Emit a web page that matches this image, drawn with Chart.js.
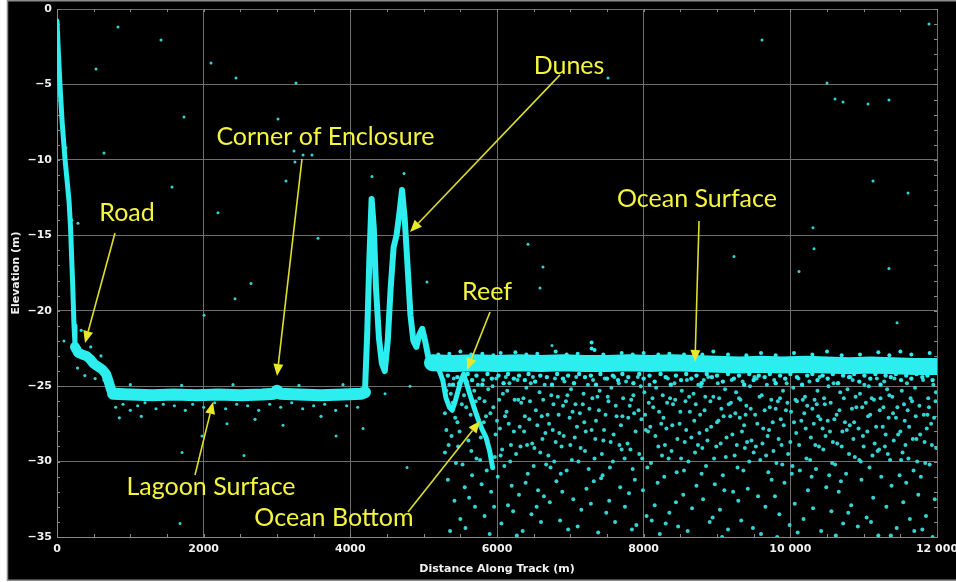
<!DOCTYPE html>
<html>
<head>
<meta charset="utf-8">
<script src="https://cdn.jsdelivr.net/npm/chart.js@4/dist/chart.umd.min.js"></script>
<style>
html,body{margin:0;padding:0;background:#fff;}
canvas{display:block;}
</style>
</head>
<body>
<canvas id="c" width="956" height="582"></canvas>
<script>
// ---------- DATA ----------
const xTicks = [0, 2000, 4000, 6000, 8000, 10000, 12000];
const yTicks = [0, -5, -10, -15, -20, -25, -30, -35];

// steep slope from the top of the track down to the road
const slopeX = [0, 15, 40, 70, 110, 140, 165, 185, 200, 212, 222, 232, 245];
const slopeY = [-0.8, -2.5, -5, -7.5, -10, -11.5, -12.8, -14.5, -16.5, -18, -19.5, -21, -22.2];

// road shelf
const roadX = [245, 290, 340, 400, 450, 500, 560, 620, 670, 705, 735, 765];
const roadY = [-22.4, -22.8, -22.9, -23.0, -23.2, -23.5, -23.7, -23.9, -24.2, -24.7, -25.2, -25.5];

// lagoon surface
const lagoonX = [765, 1000, 1300, 1600, 1900, 2200, 2500, 2800, 2960, 3000, 3040, 3300, 3600, 3900, 4150, 4200];
const lagoonY = [-25.5, -25.55, -25.6, -25.55, -25.6, -25.55, -25.6, -25.55, -25.5, -25.3, -25.5, -25.55, -25.6, -25.55, -25.5, -25.4];

// dunes
const dunesX = [4200, 4230, 4260, 4290, 4320, 4350, 4390, 4430, 4470, 4510, 4550, 4590, 4630, 4670, 4705, 4740, 4780, 4820, 4860, 4900, 4940, 4980, 5020, 5060, 5100, 5130];
const dunesY = [-25.3, -21.5, -16.5, -12.6, -14.5, -18.5, -21.8, -23.5, -24.0, -22.0, -18.5, -15.8, -15.0, -13.5, -12.0, -13.8, -17.0, -20.3, -22.0, -22.4, -21.6, -21.2, -22.0, -23.0, -23.4, -23.5];

// ocean surface
const oceanX = [5120, 5400, 5700, 6000, 6300, 6600, 6900, 7200, 7500, 7800, 8100, 8400, 8700, 9000, 9300, 9600, 9900, 10200, 10500, 10800, 11100, 11400, 11700, 12000];
const oceanY = [-23.45, -23.5, -23.45, -23.5, -23.45, -23.5, -23.45, -23.5, -23.5, -23.45, -23.5, -23.45, -23.5, -23.55, -23.6, -23.55, -23.6, -23.55, -23.6, -23.65, -23.6, -23.65, -23.7, -23.7];

// reef / ocean bottom
const reefX = [5200, 5260, 5305, 5350, 5390, 5430, 5470, 5510, 5545, 5590, 5640, 5700, 5750, 5800, 5850, 5900, 5940];
const reefY = [-23.8, -24.6, -25.8, -26.4, -26.6, -26.0, -25.3, -24.6, -24.2, -24.9, -25.7, -26.6, -27.3, -27.9, -28.4, -29.3, -30.4];

// spikes on top of the ocean surface band
const surfaceSpikes = [[5200,-22.9],[5350,-22.85],[5500,-22.7],[5650,-22.9],[5800,-22.85],[5950,-22.95],[6050,-22.8],[6250,-22.75],[6400,-22.9],[6550,-22.85],[6800,-22.7],[6950,-22.9],[7100,-22.85],[7290,-22.1],[7290,-22.5],[7330,-22.6],[7450,-22.9],[7700,-22.8],[7850,-22.9],[8000,-22.8],[8200,-22.9],[8350,-22.85],[8550,-22.9],[8800,-22.9],[8950,-22.7],[9150,-22.9],[9400,-22.95],[9600,-22.8],[9800,-22.95],[10050,-22.8],[10300,-22.9],[10500,-22.7],[10700,-22.95],[10950,-22.9],[11200,-22.75],[11350,-22.95],[11500,-22.7],[11650,-22.9],[11900,-22.8]];

// isolated returns outside the ground / water bands
const sparsePoints = [
[832,-1.19],[1418,-2.06],[532,-3.98],[2100,-3.58],[2441,-4.57],[3259,-4.91],[1732,-7.16],[3014,-7.29],[641,-9.55],[3232,-9.41],[3245,-10.14],[3355,-9.68],[3477,-9.68],[3123,-11.4],[1568,-11.8],[2195,-13.5],[3559,-15.2],[2645,-18.2],[2427,-19.2],[2005,-20.3],[286,-14.2],[95,-22.0],
[11891,-0.99],[9614,-2.06],[7514,-4.57],[10500,-4.9],[10609,-5.97],[10718,-6.16],[11059,-6.3],[11345,-6.03],[11127,-11.4],[11605,-12.2],[10309,-14.5],[10323,-15.9],[6423,-15.6],[9232,-16.4],[6627,-17.1],[6586,-18.5],[10118,-17.4],[11345,-17.2],[11455,-20.8],[6750,-22.3],
[1705,-29.4],[2318,-27.5],[2550,-29.6],[1677,-34.1],[3805,-28.3],[4173,-27.8],[3082,-27.6],[4773,-30.4],[1977,-28.3],[4295,-11.1],[4732,-10.9],[5045,-18.1],[4473,-25.5],[4814,-25.0]
];

// fringe returns around the land / lagoon band
const lagoonFringe = [
[800,-26.4],[900,-26.2],[1000,-26.6],[1100,-26.3],[1200,-26.1],[1350,-26.5],[1450,-26.2],[1600,-26.3],[1750,-26.6],[1850,-26.2],[2000,-26.4],[2150,-26.1],[2300,-26.5],[2450,-26.2],[2600,-26.3],[2750,-26.6],[2900,-26.2],[3050,-26.4],[3200,-26.1],[3350,-26.5],[3500,-26.3],[3650,-26.2],[3800,-26.6],[3950,-26.3],[4100,-26.4],
[1000,-24.9],[1700,-24.95],[2400,-24.9],[3300,-24.95],[3900,-24.9],[850,-27.1],[1150,-27.0],[2700,-27.2],[3600,-27.0],
[330,-21.3],[420,-21.6],[380,-24.3],[520,-24.5],[600,-23.0],[280,-23.8],[640,-24.6],[460,-22.4],[700,-24.8],[120,-9.2],[150,-12.0],[200,-14.0]
];

// returns just below the ocean surface band
const surfaceFringe = [
[5330,-24.3],[5400,-24.9],[5460,-24.4],[5600,-24.2],[5660,-24.6],[5720,-24.3],[5800,-24.9],[5870,-24.2],[5930,-24.5],[6020,-24.3],[6090,-24.8],[6150,-24.2],[6230,-24.5],[6300,-24.3],[6380,-24.6],[6430,-24.2],[6520,-24.7],[6590,-24.3],[6680,-24.4],[6750,-24.9],[6820,-24.2],[6900,-24.5],[6970,-24.3],[7050,-24.8],[7120,-24.2],[7200,-24.4],[7280,-24.3],[7350,-24.9],[7410,-24.2],[7500,-24.5],[7580,-24.3],[7650,-24.6],[7710,-24.2],[7790,-24.4],[7860,-24.8],[7940,-24.2],[8000,-24.5],[8080,-24.3],[8150,-24.7],[8230,-24.2],[8300,-24.4],[8370,-24.9],[8440,-24.3],[8510,-24.6],[8580,-24.2],[8650,-24.5],[8720,-24.3],[8790,-24.8],[8860,-24.2],[8930,-24.4],[9000,-24.3],[9080,-24.7],[9150,-24.2],[9230,-24.5],[9300,-24.3],[9370,-24.9],[9440,-24.2],[9500,-24.6],[9570,-24.3],[9650,-24.4],[9720,-24.2],[9800,-24.8],[9860,-24.3],[9930,-24.5],[10000,-24.2],[10090,-24.4],[10160,-24.9],[10230,-24.3],[10300,-24.2],[10370,-24.6],[10440,-24.3],[10510,-24.5],[10580,-24.2],[10650,-24.8],[10720,-24.3],[10800,-24.4],[10870,-24.2],[10940,-24.7],[11010,-24.3],[11090,-24.5],[11160,-24.2],[11230,-24.9],[11300,-24.3],[11370,-24.4],[11440,-24.2],[11510,-24.6],[11580,-24.3],[11650,-24.5],[11720,-24.2],[11800,-24.4],[11870,-24.3],[11940,-24.6]
];

// scattered returns in the water column below the ocean surface
const oceanNoise = [
[5270,-24.6],[5310,-27.9],[5290,-29.4],[5350,-24.9],[5330,-31.2],[5380,-28.3],[5410,-24.5],[5420,-32.6],[5460,-27.4],[5440,-30.1],[5480,-24.8],[5500,-33.8],[5520,-26.2],[5470,-29.0],[5560,-31.7],[5590,-24.7],[5610,-28.6],[5570,-34.4],[5640,-26.9],[5660,-30.9],[5690,-25.3],[5700,-33.0],[5720,-29.8],[5740,-24.9],[5310,-25.3],[5360,-34.6],[5550,-25.6],[5620,-32.4],[5680,-27.7],[5395,-26.1],
[5760,-25.8],[5790,-31.5],[5810,-24.6],[5830,-33.6],[5850,-27.0],[5880,-25.2],[5900,-34.8],[5920,-32.0],[5950,-26.4],[5970,-29.7],[5990,-24.5],[6010,-31.0],[6040,-27.8],[6060,-34.1],[6080,-25.5],[6100,-30.3],[6130,-26.7],[6150,-32.9],[6170,-24.8],[6190,-28.9],[6220,-33.3],[6240,-25.9],[5780,-28.4],[5860,-30.6],[5940,-25.0],[6000,-27.3],[6120,-24.4],[6200,-31.6],[5830,-26.0],[6070,-29.2],[5960,-33.0],[6160,-27.5],
[6260,-29.5],[6280,-24.6],[6300,-32.2],[6330,-26.1],[6350,-34.6],[6370,-28.0],[6400,-25.1],[6420,-30.8],[6440,-27.2],[6470,-33.5],[6490,-24.4],[6510,-29.1],[6530,-26.6],[6560,-31.9],[6580,-25.4],[6600,-34.0],[6620,-28.5],[6650,-24.9],[6670,-30.2],[6690,-26.9],[6720,-32.7],[6740,-25.6],[6310,-27.7],[6390,-31.4],[6460,-24.8],[6540,-33.0],[6610,-27.0],[6700,-29.6],[6270,-34.9],[6360,-25.8],[6480,-28.8],[6640,-32.3],
[6760,-27.9],[6790,-24.5],[6810,-31.3],[6830,-25.7],[6860,-33.9],[6880,-29.0],[6900,-26.3],[6920,-24.7],[6950,-30.6],[6970,-34.5],[6990,-27.1],[7010,-25.2],[7040,-32.5],[7060,-28.4],[7080,-24.4],[7110,-30.0],[7130,-26.8],[7150,-33.2],[7180,-25.5],[7200,-29.3],[7220,-31.8],[7240,-24.9],[6780,-30.0],[6850,-28.1],[6940,-26.0],[7020,-29.9],[7100,-34.3],[7190,-27.4],[6890,-32.0],[7070,-26.2],
[7260,-26.5],[7280,-32.8],[7310,-24.6],[7330,-29.8],[7350,-27.3],[7380,-34.7],[7400,-25.3],[7420,-31.1],[7450,-28.6],[7470,-24.5],[7490,-33.4],[7520,-26.0],[7540,-30.4],[7560,-25.1],[7590,-28.2],[7610,-34.0],[7630,-27.0],[7660,-24.8],[7680,-31.7],[7700,-29.2],[7720,-25.8],[7745,-33.0],[7290,-27.9],[7370,-25.7],[7440,-30.9],[7530,-32.6],[7600,-24.4],[7690,-27.6],[7320,-31.3],[7480,-26.9],
[7760,-24.7],[7780,-28.8],[7800,-32.1],[7830,-25.9],[7850,-30.5],[7870,-26.8],[7900,-34.2],[7920,-24.4],[7940,-29.5],[7970,-27.2],[7990,-31.9],[8010,-25.4],[8040,-33.6],[8060,-28.0],[8080,-24.9],[8100,-30.1],[8130,-26.4],[8150,-32.9],[8170,-25.1],[8200,-29.0],[8220,-34.8],[8240,-27.5],[7810,-26.3],[7880,-31.2],[7960,-25.0],[8030,-27.9],[8110,-33.9],[8190,-31.4],[7840,-34.5],[8070,-26.1],
[8260,-25.6],[8280,-31.0],[8310,-27.8],[8330,-24.5],[8350,-33.4],[8380,-29.3],[8400,-26.2],[8420,-24.8],[8450,-30.7],[8470,-34.3],[8490,-27.5],[8520,-25.3],[8540,-32.2],[8560,-28.7],[8590,-24.6],[8610,-30.0],[8630,-26.7],[8660,-33.1],[8680,-25.5],[8700,-29.4],[8720,-31.6],[8745,-24.9],[8290,-28.9],[8360,-25.8],[8440,-32.7],[8510,-29.8],[8600,-34.6],[8690,-27.3],[8300,-34.1],[8570,-26.0],
[8760,-28.1],[8780,-25.0],[8810,-32.5],[8830,-26.6],[8850,-30.3],[8880,-24.4],[8900,-34.0],[8920,-27.7],[8950,-25.7],[8970,-31.5],[8990,-29.0],[9010,-24.8],[9040,-33.2],[9060,-26.5],[9080,-30.9],[9110,-25.2],[9130,-28.4],[9150,-34.5],[9180,-27.0],[9200,-24.6],[9220,-32.0],[9240,-29.6],[8790,-30.8],[8860,-27.9],[8940,-33.7],[9020,-27.3],[9100,-31.9],[9190,-26.1],[8820,-24.6],[9070,-35.0],
[9260,-25.4],[9280,-30.4],[9310,-27.1],[9330,-33.9],[9350,-24.7],[9380,-29.1],[9400,-26.3],[9420,-31.8],[9450,-25.0],[9470,-28.6],[9490,-34.4],[9520,-26.9],[9540,-24.5],[9560,-32.3],[9590,-29.9],[9610,-25.6],[9630,-27.8],[9660,-33.0],[9680,-24.9],[9700,-30.7],[9720,-26.4],[9745,-31.2],[9290,-32.6],[9370,-27.6],[9440,-30.0],[9530,-29.0],[9600,-34.8],[9690,-28.3],[9320,-25.9],[9510,-24.4],
[9760,-27.4],[9780,-24.6],[9810,-30.1],[9830,-26.0],[9850,-33.5],[9880,-28.9],[9900,-25.3],[9920,-31.4],[9950,-24.8],[9970,-29.5],[9990,-34.2],[10010,-26.7],[10040,-25.1],[10060,-32.8],[10080,-28.1],[10110,-24.5],[10130,-30.6],[10150,-27.3],[10180,-33.8],[10200,-25.7],[10220,-29.8],[10240,-31.9],[9790,-32.3],[9870,-27.2],[9940,-26.6],[10030,-30.3],[10100,-34.7],[10190,-26.8],[9820,-35.0],[10070,-25.9],
[10260,-24.7],[10280,-28.4],[10310,-33.1],[10330,-25.9],[10350,-30.5],[10380,-27.0],[10400,-24.4],[10420,-34.6],[10450,-29.2],[10470,-26.2],[10490,-31.7],[10520,-25.0],[10540,-28.0],[10560,-33.3],[10590,-24.8],[10610,-30.2],[10630,-26.9],[10660,-32.0],[10680,-25.4],[10700,-29.0],[10720,-34.1],[10745,-27.4],[10290,-31.0],[10370,-25.3],[10440,-27.8],[10530,-30.9],[10620,-34.9],[10690,-31.3],[10300,-26.5],[10580,-28.7],
[10760,-30.8],[10780,-25.2],[10810,-27.6],[10830,-32.9],[10850,-24.6],[10880,-29.7],[10900,-26.4],[10920,-34.3],[10950,-25.5],[10970,-31.2],[10990,-28.3],[11010,-24.9],[11040,-33.7],[11060,-27.0],[11080,-30.4],[11110,-25.8],[11130,-32.4],[11150,-28.8],[11180,-24.5],[11200,-34.9],[11220,-26.6],[11240,-31.0],[10790,-33.4],[10870,-27.4],[10940,-29.9],[11030,-26.1],[11100,-34.0],[11190,-29.3],[10820,-24.4],[11070,-25.0],
[11260,-27.7],[11280,-24.7],[11310,-33.0],[11330,-29.5],[11350,-25.6],[11380,-31.6],[11400,-26.8],[11420,-24.5],[11450,-34.4],[11470,-28.2],[11490,-30.9],[11520,-25.3],[11540,-32.7],[11560,-27.3],[11590,-24.8],[11610,-29.8],[11630,-33.8],[11660,-26.0],[11680,-30.6],[11700,-25.1],[11720,-28.5],[11745,-32.2],[11290,-29.0],[11370,-34.9],[11440,-27.1],[11530,-29.4],[11600,-26.6],[11690,-34.6],[11320,-25.2],[11580,-31.4],
[11760,-26.3],[11780,-31.0],[11810,-24.6],[11830,-28.7],[11850,-33.6],[11880,-25.8],[11900,-30.2],[11920,-27.5],[11950,-24.9],[11970,-32.5],[11990,-29.1],[11800,-34.5],[11870,-26.9],[11940,-35.0],[11985,-25.4]
];

// denser returns in the upper part of the water column
const oceanNoiseUpper = [
[5290,-26.8],[5340,-28.9],[5370,-25.5],[5430,-27.1],[5490,-28.0],[5530,-30.2],[5580,-26.4],[5650,-29.3],[5710,-26.0],[5770,-29.9],[5820,-27.4],[5870,-28.6],[5910,-26.8],[5980,-28.2],[6030,-25.9],[6050,-29.6],[6110,-27.0],[6140,-25.3],[6180,-30.0],[6230,-28.0],[6290,-25.9],[6320,-29.0],[6380,-27.0],[6410,-28.9],[6450,-26.0],[6500,-30.3],[6550,-27.6],[6590,-29.4],[6630,-25.9],[6660,-28.1],[6710,-27.5],[6730,-30.4],[6770,-26.2],[6800,-28.7],[6840,-26.9],[6870,-30.8],[6910,-28.3],[6960,-25.6],[7000,-28.9],[7030,-26.7],[7090,-27.7],[7140,-29.1],[7170,-26.2],[7210,-28.0],[7250,-30.5],[7300,-25.8],[7340,-28.5],[7390,-26.6],[7430,-29.5],[7460,-27.9],[7510,-25.7],[7550,-28.7],[7580,-30.0],[7620,-26.3],[7670,-28.9],[7710,-27.0],[7740,-29.8],[7790,-27.1],[7820,-29.2],[7860,-25.6],[7890,-28.0],[7930,-26.6],[7980,-29.8],[8020,-26.9],[8050,-30.4],[8090,-27.7],[8120,-25.8],[8160,-28.3],[8210,-26.7],[8250,-29.6],[8270,-27.1],[8320,-26.1],[8340,-29.8],[8390,-27.6],[8430,-25.9],[8460,-28.5],[8500,-26.7],[8550,-30.6],[8580,-27.9],[8620,-25.7],[8650,-28.4],[8710,-26.2],[8740,-28.9],[8770,-26.9],[8800,-29.1],[8840,-25.7],[8870,-28.6],[8910,-26.0],[8960,-29.8],[9000,-27.4],[9030,-25.8],[9050,-28.8],[9090,-27.0],[9120,-29.7],[9160,-26.2],[9210,-28.2],[9250,-26.8],[9270,-28.9],[9300,-25.8],[9340,-28.0],[9360,-30.6],[9390,-26.9],[9410,-28.7],[9460,-26.5],[9500,-29.4],[9550,-27.5],[9580,-25.7],[9620,-28.8],[9650,-26.6],[9670,-29.6],[9710,-27.9],[9740,-25.9],[9770,-29.3],[9800,-26.5],[9840,-28.5],[9860,-25.8],[9890,-30.2],[9910,-27.6],[9960,-26.1],[10000,-28.7],[10020,-30.8],[10050,-27.4],[10090,-26.0],[10120,-28.9],[10170,-25.9],[10210,-27.8],[10230,-26.3],[10270,-29.9],[10320,-27.5],[10340,-28.9],[10360,-26.2],[10390,-29.0],[10410,-27.2],[10460,-25.8],[10480,-28.3],[10510,-27.3],[10550,-26.1],[10570,-30.1],[10600,-27.2],[10640,-28.8],[10670,-26.6],[10710,-28.0],[10730,-25.8],[10770,-27.9],[10800,-29.5],[10840,-26.5],[10860,-28.5],[10890,-25.7],[10930,-27.8],[10960,-30.0],[10980,-26.4],[11000,-29.0],[11050,-28.0],[11090,-26.9],[11120,-29.6],[11140,-25.9],[11170,-27.7],[11210,-29.2],[11230,-25.8],[11270,-26.4],[11300,-28.2],[11340,-27.1],[11360,-29.9],[11390,-25.7],[11410,-28.6],[11460,-26.4],[11500,-28.0],[11510,-29.9],[11550,-26.2],[11570,-28.9],[11620,-27.7],[11640,-25.8],[11670,-28.5],[11710,-27.0],[11730,-30.0],[11770,-28.2],[11820,-26.9],[11840,-30.1],[11860,-27.8],[11890,-26.4],[11930,-28.9],[11960,-27.1],[11980,-26.0]
];

// annotation labels with anchor (text) and arrow tail/head in data coordinates
const annotations = [
  {text: 'Road',                tx: 955,  ty: -14.05, fx: 791,  fy: -14.85, hx: 382,  hy: -22.14},
  {text: 'Corner of Enclosure', tx: 3660, ty: -9.01,  fx: 3341, fy: -9.94,  hx: 3000, hy: -24.33},
  {text: 'Dunes',               tx: 6982, ty: -4.31,  fx: 6859, fy: -4.37,  hx: 4814, hy: -14.78},
  {text: 'Ocean Surface',       tx: 8727, ty: -13.12, fx: 8755, fy: -14.05, hx: 8700, hy: -23.4},
  {text: 'Reef',                tx: 5864, ty: -19.29, fx: 5905, fy: -20.08, hx: 5591, hy: -23.93},
  {text: 'Lagoon Surface',      tx: 2100, ty: -32.22, fx: 1882, fy: -30.89, hx: 2127, hy: -26.05},
  {text: 'Ocean Bottom',        tx: 3777, ty: -34.27, fx: 4786, fy: -33.34, hx: 5768, hy: -27.31}
];

// ---------- helpers ----------
const zipXY = (xs, ys) => xs.map((x, i) => ({x: x, y: ys[i]}));
const pairs = arr => arr.map(p => ({x: p[0], y: p[1]}));

const BAND = 'rgb(45,238,238)';
const DOT = 'rgb(52,212,212)';

const bandSet = (label, xs, ys, w) => ({
  label, data: zipXY(xs, ys), showLine: true, borderColor: BAND, backgroundColor: BAND,
  borderWidth: w, pointRadius: 0, borderJoinStyle: 'round', borderCapStyle: 'round', tension: 0, order: 0
});
const dotSet = (label, arr, r, col) => ({
  label, data: pairs(arr), showLine: false, pointRadius: r, pointBorderWidth: 0,
  backgroundColor: col, borderColor: col, order: 1
});

const fmtTick = v => {
  const s = String(Math.abs(v));
  const body = s.length > 4 ? s.replace(/\B(?=(\d{3})+(?!\d))/g, ' ') : s;
  return (v < 0 ? '\u2212' : '') + body;
};

// ---------- plugins ----------
const framePlugin = {
  id: 'frame',
  beforeDraw(chart) {
    const {ctx, width, height} = chart;
    ctx.save();
    ctx.fillStyle = '#ffffff';
    ctx.fillRect(0, 0, width, height);
    ctx.fillStyle = '#000000';
    ctx.fillRect(7, 1, width - 7, height - 3);
    ctx.strokeStyle = '#8c8c8c';
    ctx.lineWidth = 1.5;
    ctx.strokeRect(7.5, 0.75, width - 6, height - 2.5);
    ctx.restore();
  }
};

const minorTickPlugin = {
  id: 'minorTicks',
  beforeDatasetsDraw(chart) {
    const {ctx, chartArea: a, scales: {x, y}} = chart;
    ctx.save();
    ctx.strokeStyle = '#8a8a8a';
    ctx.lineWidth = 1;
    ctx.beginPath();
    for (let v = x.min; v <= x.max; v += 500) {
      const px = Math.round(x.getPixelForValue(v)) + 0.5;
      ctx.moveTo(px, a.top); ctx.lineTo(px, a.top + 3);
      ctx.moveTo(px, a.bottom); ctx.lineTo(px, a.bottom - 3);
    }
    for (let v = y.min; v <= y.max; v += 1) {
      const py = Math.round(y.getPixelForValue(v)) + 0.5;
      ctx.moveTo(a.left, py); ctx.lineTo(a.left + 3, py);
      ctx.moveTo(a.right, py); ctx.lineTo(a.right - 3, py);
    }
    ctx.stroke();
    ctx.restore();
  }
};

const annotationPlugin = {
  id: 'annot',
  afterDatasetsDraw(chart) {
    const {ctx, scales: {x, y}} = chart;
    ctx.save();
    annotations.forEach(an => {
      const fx = x.getPixelForValue(an.fx), fy = y.getPixelForValue(an.fy);
      const hx = x.getPixelForValue(an.hx), hy = y.getPixelForValue(an.hy);
      const ang = Math.atan2(hy - fy, hx - fx);
      const L = 12, W = 5;
      const bx = hx - L * Math.cos(ang), by = hy - L * Math.sin(ang);
      ctx.strokeStyle = 'rgb(222,222,40)';
      ctx.lineWidth = 1.6;
      ctx.beginPath(); ctx.moveTo(fx, fy); ctx.lineTo(bx, by); ctx.stroke();
      ctx.fillStyle = 'rgb(232,232,40)';
      ctx.beginPath();
      ctx.moveTo(hx, hy);
      ctx.lineTo(bx + W * Math.sin(ang), by - W * Math.cos(ang));
      ctx.lineTo(bx - W * Math.sin(ang), by + W * Math.cos(ang));
      ctx.closePath(); ctx.fill();
      ctx.fillStyle = 'rgb(245,245,60)';
      ctx.font = '25px Lato, "Open Sans", sans-serif';
      ctx.textAlign = 'center';
      ctx.textBaseline = 'alphabetic';
      ctx.fillText(an.text, x.getPixelForValue(an.tx), y.getPixelForValue(an.ty));
    });
    ctx.restore();
  }
};

// ---------- chart ----------
const tickFont = {family: '"DejaVu Sans", sans-serif', size: 11, weight: 'bold'};
new Chart(document.getElementById('c'), {
  type: 'scatter',
  data: {
    datasets: [
      bandSet('Slope', slopeX, slopeY, 5),
      bandSet('Road', roadX, roadY, 10),
      bandSet('Lagoon Surface', lagoonX, lagoonY, 12),
      bandSet('Dunes', dunesX, dunesY, 6),
      bandSet('Ocean Surface', oceanX, oceanY, 17),
      bandSet('Reef', reefX, reefY, 5),
      dotSet('Surface spikes', surfaceSpikes, 2, BAND),
      dotSet('Surface fringe', surfaceFringe, 2.2, BAND),
      dotSet('Lagoon fringe', lagoonFringe, 1.6, DOT),
      dotSet('Ocean noise', oceanNoise, 2.0, DOT),
      dotSet('Ocean noise upper', oceanNoiseUpper, 2.0, DOT),
      dotSet('Sparse', sparsePoints, 1.5, DOT)
    ]
  },
  options: {
    responsive: false,
    devicePixelRatio: 1,
    animation: false,
    events: [],
    layout: {padding: {left: 0, top: 9, right: 19, bottom: 0}},
    plugins: {legend: {display: false}, tooltip: {enabled: false}},
    scales: {
      x: {
        type: 'linear', min: 0, max: 12000,
        afterBuildTicks: s => { s.ticks = xTicks.map(v => ({value: v})); },
        afterFit: s => { s.height = 45; s.paddingLeft = 0; s.paddingRight = 0; },
        grid: {color: '#6e6e6e', lineWidth: 1, drawTicks: false},
        border: {color: '#8a8a8a', width: 1},
        ticks: {color: '#f0f0f0', font: tickFont, padding: 6, maxRotation: 0, autoSkip: false, callback: v => fmtTick(v)},
        title: {display: true, text: 'Distance Along Track (m)', color: '#f0f0f0', font: tickFont, padding: {top: 0, bottom: 6}}
      },
      y: {
        type: 'linear', min: -35, max: 0,
        afterBuildTicks: s => { s.ticks = yTicks.map(v => ({value: v})); },
        afterFit: s => { s.width = 57; s.paddingTop = 0; s.paddingBottom = 0; },
        grid: {color: '#6e6e6e', lineWidth: 1, drawTicks: false},
        border: {color: '#8a8a8a', width: 1},
        ticks: {color: '#f0f0f0', font: tickFont, padding: 5, autoSkip: false, callback: v => fmtTick(v)},
        title: {display: true, text: 'Elevation (m)', color: '#f0f0f0', font: tickFont, padding: {top: 10, bottom: 0}}
      }
    }
  },
  plugins: [framePlugin, minorTickPlugin, annotationPlugin]
});
</script>
</body>
</html>
